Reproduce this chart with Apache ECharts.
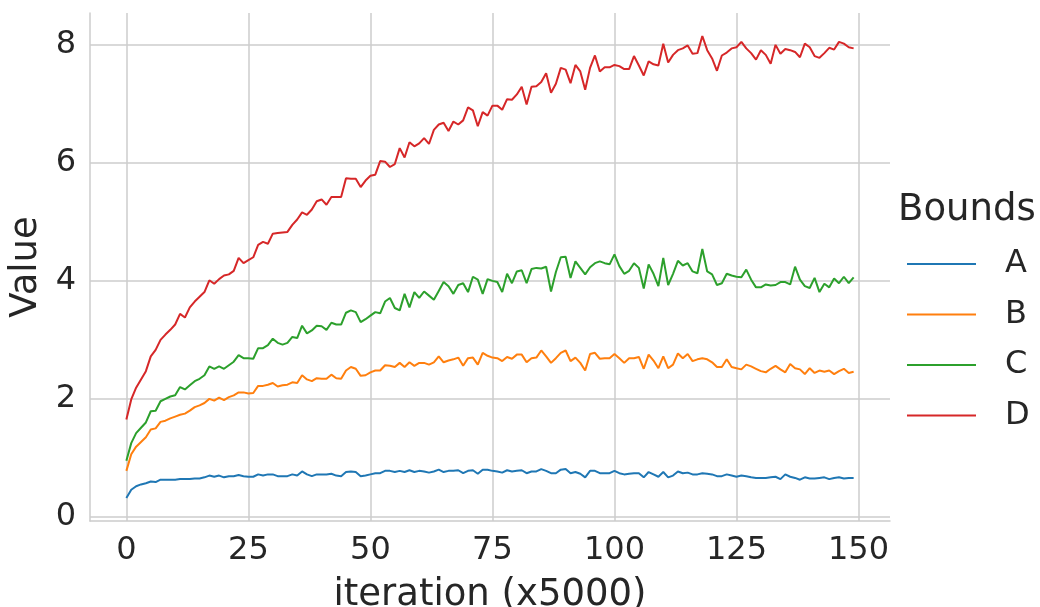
<!DOCTYPE html>
<html>
<head>
<meta charset="utf-8">
<script src="https://cdn.jsdelivr.net/npm/echarts@6/dist/echarts.min.js"></script>
<style>
html,body{margin:0;padding:0;background:#fff;}
#chart{width:1040px;height:607px;}
</style>
</head>
<body>
<div id="chart"></div>
<script>
const iterations = Array.from({length: 150}, (_, i) => i);
const xTicks = [0, 25, 50, 75, 100, 125, 150];
const yTicks = [0, 2, 4, 6, 8];
const seriesNames = ['A', 'B', 'C', 'D'];

const valuesA = [
0.31,0.45,0.51,0.54,0.56,0.59,0.58,0.62,0.62,0.62,0.62,0.63,0.63,0.63,0.64,0.64,0.66,0.69,0.67,0.69,0.66,0.68,0.68,0.70,0.68,
0.67,
0.67,0.71,0.69,0.71,0.71,0.68,0.68,0.68,0.71,0.69,0.76,0.71,0.68,0.71,0.71,0.71,0.72,0.69,0.68,0.75,0.76,0.75,0.68,0.69,0.71,
0.73,0.73,0.77,0.77,0.75,0.77,0.75,0.78,0.75,0.77,0.76,0.74,0.76,0.79,0.75,0.77,0.77,0.78,0.73,0.77,0.78,0.72,0.79,0.79,0.77,
0.76,0.74,0.78,0.76,0.77,0.78,0.73,0.76,0.76,0.80,0.77,0.73,0.73,0.79,0.80,0.73,0.75,0.72,0.66,0.77,0.77,0.73,0.73,0.73,0.77,
0.73,0.71,0.72,0.73,0.73,0.66,0.75,0.71,0.67,0.75,0.66,0.69,0.76,0.73,0.74,0.71,0.71,0.73,0.72,0.71,0.68,0.68,0.71,0.69,0.67,
0.69,0.68,0.66,0.65,0.65,0.65,0.66,0.67,0.63,0.71,0.67,0.65,0.62,0.66,0.64,0.64,0.65,0.66,0.63,0.65,0.66,0.64,0.65,0.65
];
const valuesB = [
0.77,1.05,1.18,1.26,1.34,1.47,1.49,1.60,1.62,1.66,1.69,1.72,1.74,1.79,1.85,1.88,1.92,1.99,1.96,2.01,1.97,2.02,2.05,2.10,2.10,
2.08,
2.09,2.21,2.21,2.23,2.26,2.20,2.22,2.23,2.27,2.26,2.39,2.32,2.29,2.34,2.33,2.33,2.40,2.34,2.33,2.47,2.53,2.50,2.38,2.39,2.44,
2.47,2.47,2.56,2.55,2.53,2.60,2.53,2.61,2.55,2.60,2.60,2.57,2.61,2.71,2.61,2.64,2.66,2.69,2.55,2.68,2.69,2.57,2.77,2.72,2.69,
2.68,2.63,2.70,2.67,2.74,2.74,2.61,2.68,2.69,2.81,2.71,2.60,2.68,2.77,2.81,2.63,2.69,2.60,2.47,2.75,2.77,2.67,2.68,2.68,2.75,
2.68,2.60,2.68,2.68,2.70,2.50,2.74,2.64,2.51,2.71,2.51,2.57,2.76,2.68,2.75,2.63,2.66,2.68,2.66,2.61,2.53,2.53,2.66,2.53,2.51,
2.49,2.57,2.54,2.50,2.46,2.44,2.50,2.55,2.49,2.44,2.58,2.51,2.49,2.41,2.51,2.43,2.47,2.45,2.47,2.41,2.46,2.50,2.43,2.45
];
const valuesC = [
0.94,1.24,1.41,1.50,1.59,1.78,1.79,1.95,1.99,2.03,2.05,2.19,2.15,2.22,2.29,2.33,2.39,2.54,2.50,2.54,2.50,2.56,2.62,2.73,2.68,
2.68,
2.67,2.85,2.85,2.90,3.01,2.94,2.91,2.94,3.04,3.02,3.23,3.10,3.15,3.23,3.22,3.16,3.28,3.25,3.25,3.45,3.49,3.46,3.29,3.34,3.40,
3.46,3.44,3.64,3.70,3.53,3.49,3.77,3.54,3.80,3.70,3.81,3.74,3.67,3.82,3.97,3.90,3.77,3.92,3.95,3.80,4.06,4.01,3.77,4.02,3.99,
3.97,3.80,4.11,3.95,4.15,4.17,3.95,4.19,4.21,4.20,4.23,3.81,4.14,4.39,4.40,4.04,4.32,4.21,4.10,4.22,4.29,4.32,4.29,4.27,4.44,
4.24,4.11,4.16,4.29,4.21,3.86,4.27,4.11,3.90,4.38,3.92,4.11,4.33,4.25,4.29,4.15,4.12,4.53,4.15,4.10,3.92,3.95,4.11,4.08,4.06,
4.05,4.18,4.01,3.88,3.88,3.93,3.91,3.92,3.97,3.97,3.93,4.23,4.01,3.90,3.87,4.04,3.80,3.94,3.88,4.03,3.95,4.06,3.95,4.05
];
const valuesD = [
1.64,1.98,2.18,2.32,2.46,2.71,2.82,2.99,3.08,3.16,3.25,3.43,3.37,3.54,3.64,3.72,3.80,4.00,3.94,4.02,4.08,4.10,4.16,4.38,4.29,
4.34,
4.39,4.60,4.65,4.62,4.79,4.80,4.81,4.82,4.94,5.03,5.15,5.11,5.20,5.34,5.37,5.28,5.41,5.41,5.41,5.73,5.72,5.72,5.58,5.69,5.77,
5.79,6.02,6.01,5.92,5.97,6.24,6.08,6.34,6.27,6.32,6.41,6.31,6.55,6.64,6.67,6.53,6.69,6.64,6.71,6.93,6.88,6.61,6.85,6.79,6.96,
6.96,6.89,7.07,7.06,7.15,7.28,6.98,7.28,7.29,7.36,7.51,7.18,7.33,7.60,7.57,7.34,7.65,7.54,7.23,7.60,7.81,7.54,7.61,7.61,7.65,
7.63,7.58,7.58,7.80,7.64,7.47,7.71,7.66,7.64,8.01,7.69,7.82,7.90,7.93,7.98,7.84,7.85,8.14,7.90,7.76,7.55,7.81,7.86,7.93,7.95,
8.04,7.93,7.85,7.74,7.90,7.82,7.67,7.99,7.84,7.92,7.90,7.87,7.78,8.01,7.95,7.80,7.77,7.85,7.94,7.91,8.04,8.01,7.95,7.93
];

const colors = ['#1f77b4', '#ff7f0e', '#2ca02c', '#d62728'];
const allValues = [valuesA, valuesB, valuesC, valuesD];
const textColor = '#262626';
const gridColor = '#cccccc';
const FONT = 'DejaVu Sans';

const chart = echarts.init(document.getElementById('chart'), null, {renderer: 'canvas'});
chart.setOption({
  animation: false,
  backgroundColor: '#ffffff',
  textStyle: {fontFamily: FONT, color: textColor},
  title: {
    text: 'Bounds',
    left: 898, top: 192, padding: 0,
    textStyle: {fontFamily: FONT, fontSize: 37, fontWeight: 'normal', color: textColor}
  },
  legend: {
    orient: 'vertical',
    left: 907, top: 246, padding: 0,
    itemWidth: 69, itemHeight: 2,
    itemGap: 14.5,
    icon: 'rect',
    data: seriesNames,
    textStyle: {fontFamily: FONT, fontSize: 32, color: textColor, lineHeight: 36, padding: [0, 0, 0, 24]}
  },
  grid: {left: 90, right: 150, top: 13, bottom: 86, containLabel: false, outerBoundsMode: 'none'},
  xAxis: {
    type: 'value',
    min: -7.45, max: 156.45,
    name: 'iteration (x5000)',
    nameLocation: 'middle',
    nameGap: 56,
    nameTextStyle: {fontFamily: FONT, fontSize: 37, color: textColor},
    axisLine: {show: true, onZero: false, lineStyle: {color: gridColor, width: 1.5}},
    axisTick: {show: false, customValues: xTicks},
    axisLabel: {customValues: xTicks, fontFamily: FONT, fontSize: 32, color: textColor, margin: 14},
    splitLine: {show: true, lineStyle: {color: gridColor, width: 1.5}}
  },
  yAxis: {
    type: 'value',
    min: -0.08, max: 8.53,
    name: 'Value',
    nameLocation: 'middle',
    nameRotate: 90,
    nameGap: 42,
    nameTextStyle: {fontFamily: FONT, fontSize: 37, color: textColor},
    axisLine: {show: true, onZero: false, lineStyle: {color: gridColor, width: 1.5}},
    axisTick: {show: false, customValues: yTicks},
    axisLabel: {customValues: yTicks, fontFamily: FONT, fontSize: 32, color: textColor, margin: 14},
    splitLine: {show: true, lineStyle: {color: gridColor, width: 1.5}}
  },
  series: seriesNames.map((name, k) => ({
    name: name,
    type: 'line',
    data: iterations.map((x, i) => [x, allValues[k][i]]),
    symbol: 'none',
    showSymbol: false,
    color: colors[k],
    lineStyle: {color: colors[k], width: 2},
    z: 3 + k
  }))
});
</script>
</body>
</html>
